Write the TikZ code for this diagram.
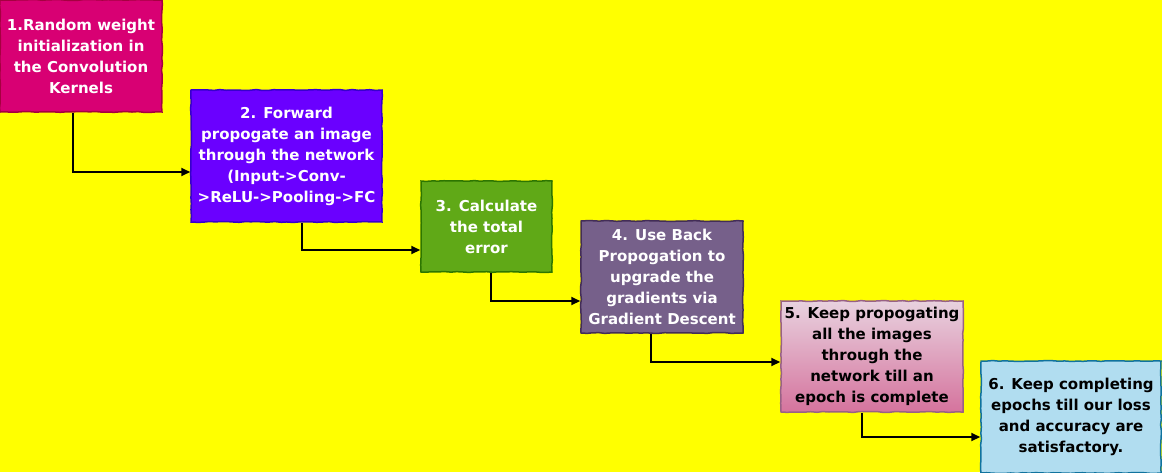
\documentclass[tikz,border=0pt]{standalone}
\usepackage{fontspec}
\setmainfont{DejaVu Sans}
\usetikzlibrary{arrows.meta,decorations.pathmorphing}
\definecolor{bgyellow}{HTML}{FFFF00}
\definecolor{c1fill}{HTML}{D80073}\definecolor{c1line}{HTML}{A50040}
\definecolor{c2fill}{HTML}{6A00FF}\definecolor{c2line}{HTML}{3700CC}
\definecolor{c3fill}{HTML}{60A917}\definecolor{c3line}{HTML}{2D7600}
\definecolor{c4fill}{HTML}{76608A}\definecolor{c4line}{HTML}{432D57}
\definecolor{c5top}{HTML}{E8D2DF}\definecolor{c5bot}{HTML}{D5739D}\definecolor{c5line}{HTML}{996185}
\definecolor{c6fill}{HTML}{B1DDF0}\definecolor{c6line}{HTML}{10739E}
\tikzset{
  box/.style={draw, line width=1.5pt, inner sep=0pt, align=center,
    font=\bfseries\fontsize{15}{21}\selectfont,
    decorate, decoration={random steps, segment length=6pt, amplitude=0.45pt}},
  conn/.style={draw=black, line width=2pt, -{Triangle[length=9pt,width=8pt]}}
}
\begin{document}
\pgfmathsetseed{7}
\begin{tikzpicture}[x=1pt,y=1pt]
\useasboundingbox (0,0) rectangle (1162,-472);
\fill[bgyellow] (0,0) rectangle (1162,-472);
\node[box, fill=c1fill, draw=c1line, text=white, minimum width=162pt, minimum height=112pt] (b1) at (81,-56)
  {1.Random weight\\initialization in\\the Convolution\\Kernels};
\node[box, fill=c2fill, draw=c2line, text=white, minimum width=191pt, minimum height=132pt] (b2) at (286.5,-156)
  {2. Forward\\propogate an image\\through the network\\(Input->Conv-\\>ReLU->Pooling->FC};
\node[box, fill=c3fill, draw=c3line, text=white, minimum width=131pt, minimum height=91pt] (b3) at (486.5,-226.5)
  {3. Calculate\\the total\\error};
\node[box, fill=c4fill, draw=c4line, text=white, minimum width=162pt, minimum height=112pt] (b4) at (662,-277)
  {4. Use Back\\Propogation to\\upgrade the\\gradients via\\Gradient Descent};
\node[box, top color=c5top, bottom color=c5bot, draw=c5line, text=black, minimum width=182pt, minimum height=111pt] (b5) at (872,-356.5)
  {5. Keep propogating\\all the images\\through the\\network till an\\epoch is complete};
\node[box, fill=c6fill, draw=c6line, text=black, minimum width=180pt, minimum height=112pt] (b6) at (1071,-417)
  {6. Keep completing\\epochs till our loss\\and accuracy are\\satisfactory.};
\draw[conn] ([xshift=-8pt]b1.south) |- ([yshift=-16pt]b2.west);
\draw[conn] ([xshift=15.5pt]b2.south) |- ([yshift=-23.5pt]b3.west);
\draw[conn] ([xshift=4.5pt]b3.south) |- ([yshift=-24pt]b4.west);
\draw[conn] ([xshift=-11pt]b4.south) |- ([yshift=-5.5pt]b5.west);
\draw[conn] ([xshift=-10pt]b5.south) |- ([yshift=-20pt]b6.west);
\end{tikzpicture}
\end{document}
